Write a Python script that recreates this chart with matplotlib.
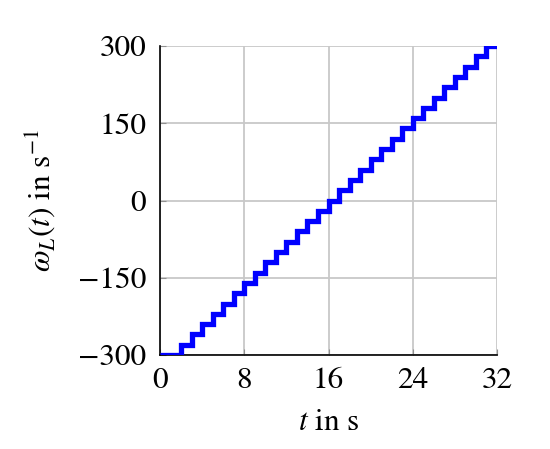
import matplotlib
matplotlib.use("Agg")
import matplotlib.pyplot as plt

plt.rcParams['mathtext.fontset'] = 'stix'
plt.rcParams['font.family'] = ['STIXGeneral', 'DejaVu Serif']

# data: step times (s) and angular velocity levels (1/s), held after each time
t_s = [0, 2, 3, 4, 5, 6, 7, 8, 9, 10, 11, 12, 13, 14, 15, 16, 17, 18, 19, 20,
       21, 22, 23, 24, 25, 26, 27, 28, 29, 30, 31, 32]
omega = [-300, -280, -260, -240, -220, -200, -180, -160, -140, -120, -100,
         -80, -60, -40, -20, 0, 20, 40, 60, 80, 100, 120, 140, 160, 180, 200,
         220, 240, 260, 280, 300, 300]
xticks = [0, 8, 16, 24, 32]
yticks = [-300, -150, 0, 150, 300]

fig = plt.figure(figsize=(5.5, 4.49), dpi=100)
ax = fig.add_axes([160/550, 94/449, 337/550, 309/449])

ax.step(t_s, omega, where='post', color='#0000ff', linewidth=3.8, zorder=3,
        solid_joinstyle='miter', solid_capstyle='butt')

ax.set_xlim(0, 32)
ax.set_ylim(-300, 300)
ax.set_xticks(xticks)
ax.set_yticks(yticks)
ax.set_xticklabels([str(v) for v in xticks])
ax.set_yticklabels([str(v).replace('-', '\u2212') for v in yticks])
ax.grid(True, color='#c8c8c8', linewidth=1.3)
ax.set_axisbelow(True)
for s in ['top', 'right']:
    ax.spines[s].set_visible(False)
for s in ['left', 'bottom']:
    ax.spines[s].set_color('black')
    ax.spines[s].set_linewidth(1.2)
ax.tick_params(direction='in', length=4, color='#909090', labelsize=22.5)
ax.tick_params(axis='y', pad=10)
ax.tick_params(axis='x', pad=9)

ax.set_xlabel(r'$t$ in s', fontsize=22.5, labelpad=10)
ax.set_ylabel(r'$\omega_L(t)$ in s$^{-1}$', fontsize=22.5, labelpad=14)

fig.savefig('out.png', dpi=100)
